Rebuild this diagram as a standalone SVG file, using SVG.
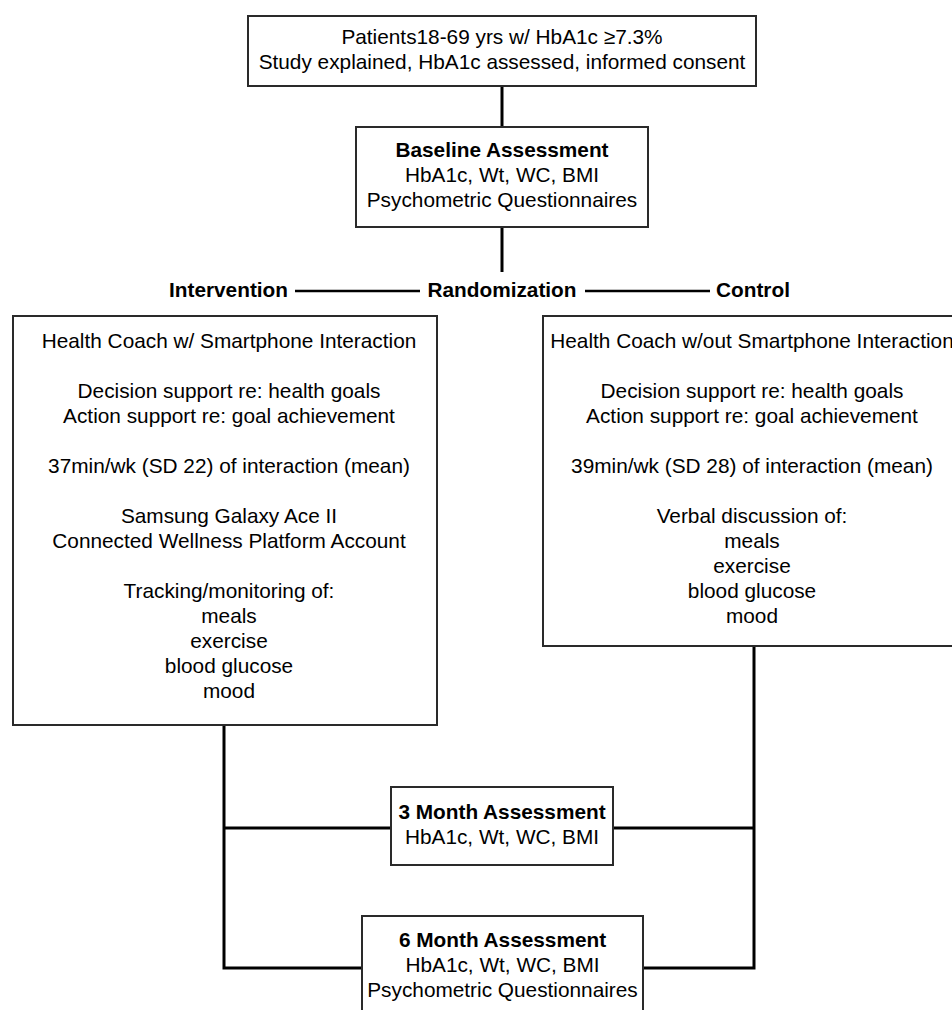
<svg xmlns="http://www.w3.org/2000/svg" width="952" height="1010" viewBox="0 0 952 1010">
<style>
text{font-family:"Liberation Sans",Arial,sans-serif;font-size:20.8px;fill:#000;text-anchor:middle}
.b{font-weight:bold}
.box{fill:#fff;stroke:#2a2a2a;stroke-width:2}
.ln{stroke:#000;stroke-width:3;fill:none}
.hl{stroke:#000;stroke-width:2.6;fill:none}
</style>
<rect width="952" height="1010" fill="#fff"/>
<g id="connectors">
<line class="ln" x1="502" y1="86" x2="502" y2="127"/>
<line class="ln" x1="502" y1="227" x2="502" y2="272"/>
<line class="hl" x1="295" y1="291" x2="420" y2="291"/>
<line class="hl" x1="585" y1="291" x2="710" y2="291"/>
<polyline class="ln" points="224,725 224,968 362,968"/>
<line class="ln" x1="224" y1="828" x2="391" y2="828"/>
<polyline class="ln" points="754,646 754,968 643,968"/>
<line class="ln" x1="613" y1="828" x2="754" y2="828"/>
</g>
<g id="screening">
<rect class="box" x="248" y="16" width="508" height="70"/>
<text x="502" y="44">Patients18-69 yrs w/ HbA1c ≥7.3%</text>
<text x="502" y="69">Study explained, HbA1c assessed, informed consent</text>
</g>
<g id="baseline">
<rect class="box" x="356" y="127" width="292" height="100"/>
<text class="b" x="502" y="157">Baseline Assessment</text>
<text x="502" y="182">HbA1c, Wt, WC, BMI</text>
<text x="502" y="207">Psychometric Questionnaires</text>
</g>
<g id="randomization">
<text class="b" x="288" y="297" style="text-anchor:end">Intervention</text>
<text class="b" x="502" y="297">Randomization</text>
<text class="b" x="716" y="297" style="text-anchor:start">Control</text>
</g>
<g id="intervention">
<rect class="box" x="13" y="316" width="424" height="409"/>
<text x="229" y="348">Health Coach w/ Smartphone Interaction</text>
<text x="229" y="398">Decision support re: health goals</text>
<text x="229" y="423">Action support re: goal achievement</text>
<text x="229" y="473">37min/wk (SD 22) of interaction (mean)</text>
<text x="229" y="523">Samsung Galaxy Ace II</text>
<text x="229" y="548">Connected Wellness Platform Account</text>
<text x="229" y="598">Tracking/monitoring of:</text>
<text x="229" y="623">meals</text>
<text x="229" y="648">exercise</text>
<text x="229" y="673">blood glucose</text>
<text x="229" y="698">mood</text>
</g>
<g id="control">
<rect class="box" x="543" y="316" width="420" height="330"/>
<text x="752" y="348">Health Coach w/out Smartphone Interaction</text>
<text x="752" y="398">Decision support re: health goals</text>
<text x="752" y="423">Action support re: goal achievement</text>
<text x="752" y="473">39min/wk (SD 28) of interaction (mean)</text>
<text x="752" y="523">Verbal discussion of:</text>
<text x="752" y="548">meals</text>
<text x="752" y="573">exercise</text>
<text x="752" y="598">blood glucose</text>
<text x="752" y="623">mood</text>
</g>
<g id="month3">
<rect class="box" x="391" y="787" width="222" height="78"/>
<text class="b" x="502" y="819">3 Month Assessment</text>
<text x="502" y="844">HbA1c, Wt, WC, BMI</text>
</g>
<g id="month6">
<rect class="box" x="362" y="916" width="281" height="110"/>
<text class="b" x="502.5" y="947">6 Month Assessment</text>
<text x="502.5" y="972">HbA1c, Wt, WC, BMI</text>
<text x="502.5" y="997">Psychometric Questionnaires</text>
</g>
</svg>
